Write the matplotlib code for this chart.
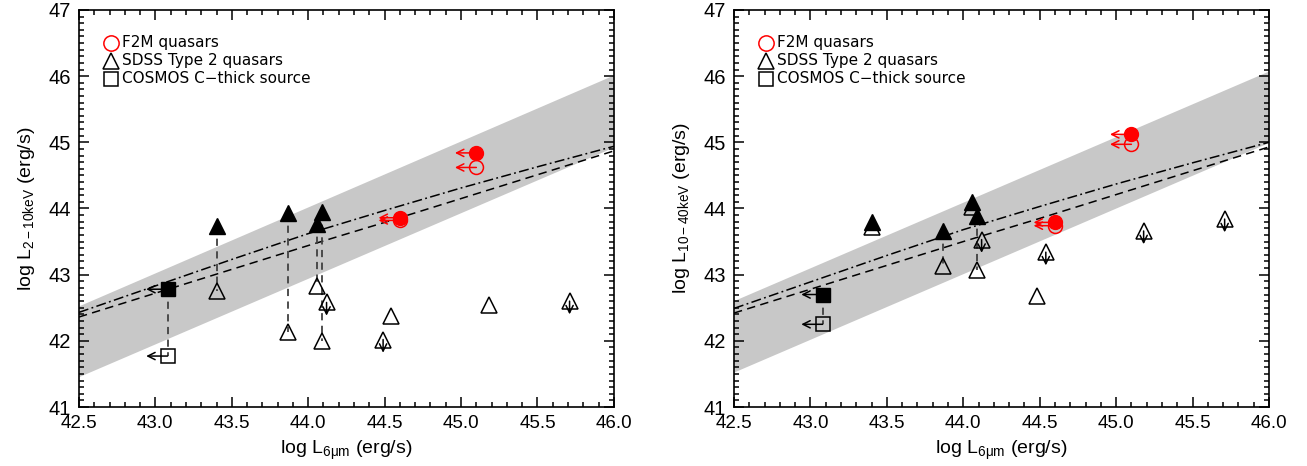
import numpy as np
import matplotlib
matplotlib.use("Agg")
import matplotlib.pyplot as plt
from matplotlib.ticker import MultipleLocator

# =====================================================
# =========       Data    =========
# =====================================================

# shared x positions (log L_6um)
COSMOS_X = [43.08]
SDSS_PAIR_X = [43.40, 43.87, 44.06, 44.09]
F2M_X = [44.60, 45.10]

# ---- left panel: 2-10 keV ----
HARD_COSMOS_FILLED = [42.78]
HARD_COSMOS_OPEN = [41.77]
HARD_SDSS_FILLED = [43.74, 43.93, 43.76, 43.95]
HARD_SDSS_OPEN = [42.76, 42.14, 42.83, 42.00]
HARD_SDSS_SINGLE_X = [44.12, 44.49, 44.54, 45.18, 45.71]
HARD_SDSS_SINGLE_Y = [42.58, 42.02, 42.37, 42.54, 42.60]
HARD_SDSS_SINGLE_UL = [True, True, False, False, True]
HARD_F2M_FILLED = [43.86, 44.84]
HARD_F2M_OPEN = [43.82, 44.62]

# ---- right panel: 10-40 keV ----
VHARD_COSMOS_FILLED = [42.70]
VHARD_COSMOS_OPEN = [42.25]
VHARD_SDSS_FILLED = [43.79, 43.66, 44.10, 43.89]
VHARD_SDSS_OPEN = [43.72, 43.13, 44.02, 43.07]
VHARD_SDSS_SINGLE_X = [44.12, 44.54, 44.48, 45.18, 45.71]
VHARD_SDSS_SINGLE_Y = [43.53, 43.34, 42.67, 43.66, 43.84]
VHARD_SDSS_SINGLE_UL = [True, True, False, True, True]
VHARD_F2M_FILLED = [43.79, 45.12]
VHARD_F2M_OPEN = [43.74, 44.97]

# gray band (relation with scatter)
BAND_X = [42.5, 46.0]
HARD_BAND_LO = [41.46, 44.93]
HARD_BAND_HI = [42.53, 46.02]
VHARD_BAND_LO = [41.53, 45.00]
VHARD_BAND_HI = [42.61, 46.08]

# dashed and dash-dot relations
REL_X = [42.5, 43.0, 43.5, 44.0, 44.5, 45.0, 45.5, 46.0]
HARD_DASHED = [42.36, 42.72, 43.08, 43.44, 43.79, 44.15, 44.51, 44.87]
HARD_DASHDOT = [42.43, 42.83, 43.23, 43.62, 43.97, 44.31, 44.63, 44.94]
VHARD_DASHED = [42.42, 42.78, 43.14, 43.50, 43.85, 44.21, 44.57, 44.93]
VHARD_DASHDOT = [42.49, 42.89, 43.29, 43.68, 44.03, 44.37, 44.69, 45.00]

X_TICKS = [42.5, 43.0, 43.5, 44.0, 44.5, 45.0, 45.5, 46.0]
Y_TICKS = [41, 42, 43, 44, 45, 46, 47]

LEGEND_LABELS = ["F2M quasars", "SDSS Type 2 quasars", "COSMOS C\u2212thick source"]

# =====================================================
# =========       Style options               =========
# =====================================================

RED = "#ff0000"
BAND_GRAY = "#c8c8c8"
LINK_GRAY = "#404040"
ARROW_DX = 0.14
ARROW_DY = 0.20

plt.rcParams["font.family"] = ["Liberation Sans", "DejaVu Sans"]
plt.rcParams["mathtext.fontset"] = "custom"
plt.rcParams["mathtext.rm"] = "Liberation Sans"
plt.rcParams["mathtext.it"] = "Liberation Sans:italic"


# =====================================================
# =========           Functions               =========
# =====================================================

def arrow(ax, x, y, dx, dy, color):
    ax.annotate("", xy=(x + dx, y + dy), xytext=(x, y),
                arrowprops=dict(arrowstyle="->", color=color, lw=1.1,
                                shrinkA=0, shrinkB=0, mutation_scale=13),
                zorder=3)


def draw_panel(ax, d):
    ax.fill_between(BAND_X, d["band_lo"], d["band_hi"], color=BAND_GRAY,
                    lw=0, zorder=1)
    ax.plot(REL_X, d["dashed"], color="k", lw=1.1, ls=(0, (5.5, 3.5)), zorder=2)
    ax.plot(REL_X, d["dashdot"], color="k", lw=1.1,
            ls=(0, (6.5, 2.2, 1.2, 2.2)), zorder=2)

    # links between corrected (filled) and observed (open) values
    for xs, ys_f, ys_o in [(COSMOS_X, d["cosmos_f"], d["cosmos_o"]),
                           (SDSS_PAIR_X, d["sdss_f"], d["sdss_o"])]:
        for x, yf, yo in zip(xs, ys_f, ys_o):
            ax.plot([x, x], [yf, yo], color=LINK_GRAY, lw=1.3,
                    ls=(0, (4, 3)), zorder=2)

    # COSMOS square, upper limits in x
    for x, yf, yo in zip(COSMOS_X, d["cosmos_f"], d["cosmos_o"]):
        arrow(ax, x, yf, -ARROW_DX, 0, "k")
        arrow(ax, x, yo, -ARROW_DX, 0, "k")
    ax.plot(COSMOS_X, d["cosmos_o"], "s", ms=10.5, mfc="none", mec="k",
            mew=1.1, zorder=4)
    ax.plot(COSMOS_X, d["cosmos_f"], "s", ms=10.5, mfc="k", mec="k", zorder=5)

    # SDSS type 2 quasars
    ax.plot(SDSS_PAIR_X, d["sdss_o"], "^", ms=11, mfc="none", mec="k",
            mew=1.1, zorder=4)
    ax.plot(SDSS_PAIR_X, d["sdss_f"], "^", ms=11, mfc="k", mec="k", zorder=5)
    for x, y, ul in zip(d["single_x"], d["single_y"], d["single_ul"]):
        if ul:
            arrow(ax, x, y, 0, -ARROW_DY, "k")
    ax.plot(d["single_x"], d["single_y"], "^", ms=11, mfc="none", mec="k",
            mew=1.1, zorder=4)

    # F2M quasars, upper limits in x
    for x, yf, yo in zip(F2M_X, d["f2m_f"], d["f2m_o"]):
        arrow(ax, x, yf, -ARROW_DX, 0, RED)
        arrow(ax, x, yo, -ARROW_DX, 0, RED)
    ax.plot(F2M_X, d["f2m_o"], "o", ms=10, mfc="none", mec=RED,
            mew=1.1, zorder=4)
    ax.plot(F2M_X, d["f2m_f"], "o", ms=10, mfc=RED, mec=RED, zorder=5)

    # hand-made legend
    leg_y = [0.917, 0.872, 0.827]
    ax.plot(0.060, leg_y[0], "o", ms=11, mfc="none", mec=RED, mew=1.1,
            transform=ax.transAxes)
    ax.plot(0.060, leg_y[1], "^", ms=11, mfc="none", mec="k", mew=1.1,
            transform=ax.transAxes)
    ax.plot(0.060, leg_y[2], "s", ms=10, mfc="none", mec="k", mew=1.1,
            transform=ax.transAxes)
    for yy, lab in zip(leg_y, LEGEND_LABELS):
        ax.text(0.080, yy, lab, transform=ax.transAxes, fontsize=11,
                family=["DejaVu Sans"], va="center", ha="left")

    ax.set_xlim(X_TICKS[0], X_TICKS[-1])
    ax.set_ylim(Y_TICKS[0], Y_TICKS[-1])
    ax.set_xticks(X_TICKS)
    ax.set_xticklabels([f"{t:.1f}" for t in X_TICKS], fontsize=13.5)
    ax.set_yticks(Y_TICKS)
    ax.set_yticklabels([str(t) for t in Y_TICKS], fontsize=14.5)
    ax.xaxis.set_minor_locator(MultipleLocator(0.1))
    ax.yaxis.set_minor_locator(MultipleLocator(0.1))
    ax.tick_params(which="both", direction="in", top=True, right=True,
                   width=1.1)
    ax.tick_params(which="major", length=7, pad=6)
    ax.tick_params(which="minor", length=3.5)
    for sp in ax.spines.values():
        sp.set_linewidth(1.2)

    ax.set_xlabel(r"log L$_{\rm 6\mu m}$ (erg/s)", fontsize=14, labelpad=5)
    ax.set_ylabel(d["ylabel"], fontsize=14, labelpad=8)


# =====================================================
# =========              Main                 =========
# =====================================================

def main():
    fig = plt.figure(figsize=(13.07, 4.66), dpi=100)
    ax1 = fig.add_axes([0.0604, 0.1266, 0.4093, 0.852])
    ax2 = fig.add_axes([0.5616, 0.1266, 0.4093, 0.852])

    hard = dict(band_lo=HARD_BAND_LO, band_hi=HARD_BAND_HI,
                dashed=HARD_DASHED, dashdot=HARD_DASHDOT,
                cosmos_f=HARD_COSMOS_FILLED, cosmos_o=HARD_COSMOS_OPEN,
                sdss_f=HARD_SDSS_FILLED, sdss_o=HARD_SDSS_OPEN,
                single_x=HARD_SDSS_SINGLE_X, single_y=HARD_SDSS_SINGLE_Y,
                single_ul=HARD_SDSS_SINGLE_UL,
                f2m_f=HARD_F2M_FILLED, f2m_o=HARD_F2M_OPEN,
                ylabel=r"log L$_{\rm 2-10keV}$ (erg/s)")
    vhard = dict(band_lo=VHARD_BAND_LO, band_hi=VHARD_BAND_HI,
                 dashed=VHARD_DASHED, dashdot=VHARD_DASHDOT,
                 cosmos_f=VHARD_COSMOS_FILLED, cosmos_o=VHARD_COSMOS_OPEN,
                 sdss_f=VHARD_SDSS_FILLED, sdss_o=VHARD_SDSS_OPEN,
                 single_x=VHARD_SDSS_SINGLE_X, single_y=VHARD_SDSS_SINGLE_Y,
                 single_ul=VHARD_SDSS_SINGLE_UL,
                 f2m_f=VHARD_F2M_FILLED, f2m_o=VHARD_F2M_OPEN,
                 ylabel=r"log L$_{\rm 10-40keV}$ (erg/s)")

    draw_panel(ax1, hard)
    draw_panel(ax2, vhard)

    fig.savefig("out.png", dpi=100)
    plt.close(fig)


if __name__ == "__main__":
    main()
